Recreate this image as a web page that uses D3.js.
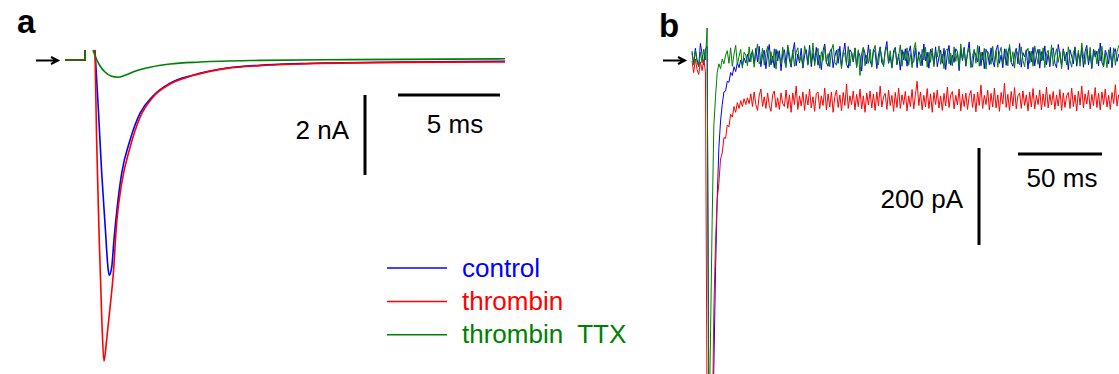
<!DOCTYPE html>
<html>
<head>
<meta charset="utf-8">
<script src="https://cdn.jsdelivr.net/npm/d3@7"></script>
<style>
  body { margin: 0; background: #fff; }
  svg { display: block; font-family: "Liberation Sans", Arial, sans-serif; }
</style>
</head>
<body>
<svg id="fig" width="1119" height="374"></svg>
<script>

    // ---- panel a: evoked current, time in ms, current in nA ----
    const baselineA = [[0, 0], [0.98, 0], [0.98, 0.25]];

    const controlA = [
        [1.47, 0.25], [1.63, -1.18], [1.80, -2.83], [1.96, -4.08], [2.12, -5.25], [2.17, -5.38],
        [2.29, -5.18], [2.40, -4.5], [2.56, -3.68], [2.78, -2.83], [3.19, -2.0], [3.68, -1.33],
        [4.31, -0.9], [5.15, -0.58], [6.27, -0.38], [7.94, -0.2], [9.56, -0.13], [11.52, -0.09],
        [16.42, -0.05], [21.57, -0.03]
    ];

    const thrombinA = [
        [1.47, 0.25], [1.55, -2.0], [1.68, -4.5], [1.81, -6.58], [1.91, -7.53], [2.04, -7.0],
        [2.21, -6.18], [2.37, -5.33], [2.53, -4.08], [2.78, -3.08], [3.19, -2.18], [3.68, -1.43],
        [4.31, -0.93], [5.15, -0.6], [6.27, -0.39], [7.94, -0.21], [9.56, -0.14], [11.52, -0.1],
        [16.42, -0.06], [21.57, -0.05]
    ];

    const ttxA = [
        [1.37, 0.25], [1.52, 0.05], [1.72, -0.15], [1.96, -0.3], [2.25, -0.4], [2.6, -0.43],
        [2.94, -0.38], [3.43, -0.28], [4.17, -0.18], [5.15, -0.1], [6.62, -0.05], [9.56, -0.01],
        [13.97, 0.01], [21.57, 0.03]
    ];

    // ---- panel b: one sample per ms, current in pA ----
    const sampleMsB = 1;

    const controlB = [
        14, -12, 20, -4, -16, 30, 8, -14, 18,
        24, -700, -760, -760, -640, -440, -290, -185, -130, -96,
        -70, -68, -48, -50, -30, -36, -18, -28, -10, -20, -4, -16, 0, -10, 8, -8, 6,
        14, -12, 20, -8, 24, -18, 6, 16, -22, 10, 28, -14, 4, -20, 18, -6, 15, -26, 9, 17,
        -13, 22, -4, -19, 12, 32, -16, 8, -10, 20, -21, 5, 17, -12, 26, -18, 10, -7, 22, -15,
        6, -24, 15, 29, -9, -17, 12, 19, -20, 3, 16, -11, 24, -16, 8, 31, -13, -21, 17, 11,
        -8, 20, -18, 13, 4, -27, 21, 9, -12, 27, -6, -16, 18, 12, -22, 6, 23, -10, -15, 16,
        34, -11, 3, -19, 15, 22, -14, 8, -25, 17, -4, 19, -17, 11, 25, -12, -7, 21, -20, 13,
        5, -16, 29, -6, 12, -21, 18, 9, -13, 23, -18, 2, 16, -11, 20, -24, 8, 26, -15, 6,
        -9, 19, 13, -26, 17, -4, 22, -17, 11, 33, -12, -19, 15, 5, -8, 24, -16, 12, -22, 18,
        9, -14, 21, -6, -18, 16, 27, -11, 6, -20, 19, -15, 12, 23, -9, -17, 8, 20, -12, 30,
        -19, 11, 2, 17, -23, 14, -8, 22, -16, 6, 18, -21, 13, -5, 25, -14, 9, -18, 16, 21,
        -11, -20, 28, 7, -15, 19, -6, 12, -24, 17, 4, -12, 23, -17, 10, -8, 20, -19, 14, 26,
        -14, 9, -22, 18, 2, 14, -16, 31, -9, -18, 16, 6, -12, 22, -20, 12, 19, -7, 8
    ];

    const thrombinB = [
        -6, -30, -2, -24, -34, -8, -26, -4, -28,
        -740, -800, -800, -800, -520, -380,
        -292, -258, -208, -196, -164, -166, -138, -142, -116, -122, -100, -112, -92, -104, -88, -100, -84, -96, -82, -94,
        -74, -100, -70, -96, -108, -78, -64, -100, -80, -104, -72, -98, -110, -76, -68, -102, -82, -106, -72, -94,
        -100, -66, -104, -76, -112, -72, -96, -58, -106, -78, -99, -70, -108, -75, -97, -64, -103, -80, -110, -73,
        -70, -105, -78, -98, -62, -107, -74, -101, -70, -112, -80, -66, -102, -76, -109, -71, -98, -54, -104, -78,
        -96, -68, -107, -75, -100, -64, -105, -78, -112, -72, -97, -68, -103, -74, -108, -70, -99, -58, -101, -80,
        -73, -106, -66, -98, -77, -110, -71, -102, -62, -104, -76, -96, -69, -109, -78, -100, -65, -105, -75, -48,
        -98, -70, -107, -77, -101, -63, -104, -74, -112, -71, -96, -66, -103, -78, -108, -73, -99, -60, -102, -76,
        -69, -105, -77, -97, -64, -109, -75, -100, -72, -106, -78, -67, -102, -74, -111, -70, -98, -56, -104, -77,
        -96, -66, -107, -73, -101, -62, -103, -76, -110, -71, -95, -52, -102, -75, -108, -69, -99, -61, -105, -78,
        -72, -104, -68, -98, -76, -109, -70, -101, -63, -105, -77, -96, -66, -107, -74, -100, -60, -103, -75, -97,
        -69, -106, -76, -99, -65, -108, -72, -102, -78, -71, -104, -62, -100, -76, -109, -68, -97, -58, -103, -74,
        -95, -67, -105, -75, -98, -61, -102, -73, -107, -70, -96, -64, -101, -77, -106, -71, -94, -55, -99, -76
    ];

    const ttxB = [
        10, -14, 16, -8, -18, 12, -10, 18, -4,
        62, -800, -580, -335, -140, -80, -30, -12, -22, -2, -12, 6,
        15, -11, 21, -17, 8, 26, -14, 3, 18, -21, 12, 6, -16, 23, -8, 17, -19, 10, 29, -12,
        -5, 20, -15, 9, 24, -18, 13, -9, 19, -23, 15, 4, -12, 22, -6, -20, 27, 8, -14, 17,
        -17, 12, 21, -8, 3, -19, 25, 10, -15, 18, -10, 31, -16, 6, 20, -21, 13, -5, 23, -12,
        9, -18, 16, 28, -9, -15, 19, 4, -22, 14, 7, -13, 24, -17, 12, -6, 21, -20, 17, -36,
        10, 22, -16, 6, -11, 18, -19, 14, 26, -8, -14, 20, 2, -18, 12, 23, -9, 15, -21, 8,
        19, -12, 4, 27, -17, 13, -6, 21, -15, 9, -20, 17, 32, -10, 6, -16, 18, -4, 22, -19,
        12, -9, 20, -18, 14, 2, 25, -13, 8, -22, 15, 19, -12, 10, -16, 23, -7, 13, -19, 29,
        -6, 17, -14, 9, 21, -20, 5, 18, -11, 26, -17, 12, -4, 20, -23, 14, 6, -13, 24, -9,
        15, -19, 10, 22, -12, 3, 19, -16, 28, -8, 13, -21, 17, 7, -14, 23, -5, -18, 12, 20,
        -11, 14, -17, 25, 6, -13, 18, -6, 21, -20, 9, 16, -12, 27, -16, 4, 19, -9, 13, -22,
        17, 7, -14, 23, -5, -19, 12, 20, -11, 16, -17, 31, 3, -13, 18, -8, 22, -18, 10, 15,
        -12, 19, -6, 24, -16, 9, -20, 17, 4, -11, 21, -15, 12, 26
    ];

    const seriesNames = ["control", "thrombin", "thrombin  TTX"];
    const seriesColors = ["#0000ff", "#ff0000", "#008000"];

    // scale bars
    const barA = { ms: 5, nA: 2 };
    const barB = { ms: 50, pA: 200 };

    const svg = d3.select("#fig");
    svg.append("rect").attr("width", 1119).attr("height", 374).attr("fill", "#fff");

    const xA = d3.scaleLinear().domain([0, 5]).range([65, 167]);
    const yA = d3.scaleLinear().domain([0, -2]).range([60, 140]);
    const xB = d3.scaleLinear().domain([0, 50]).range([692, 776]);
    const yB = d3.scaleLinear().domain([0, -200]).range([58, 155]);

    // panel labels
    svg.append("text").attr("x", 17).attr("y", 33).text("a")
        .attr("font-size", 33).attr("font-weight", "bold");
    svg.append("text").attr("x", 659).attr("y", 37).text("b")
        .attr("font-size", 33).attr("font-weight", "bold");

    // baseline arrows
    function arrow(x0, x1, y) {
        svg.append("path")
            .attr("d", "M" + x0 + "," + y + "H" + x1 + "M" + (x1 - 7) + "," + (y - 3.5) + "L" + x1 + "," + y + "L" + (x1 - 7) + "," + (y + 3.5))
            .attr("fill", "none").attr("stroke", "#000").attr("stroke-width", 2);
    }
    arrow(36, 58, 60.5);
    arrow(663, 685, 60.5);

    // panel a traces
    const lineA = d3.line().x(d => xA(d[0])).y(d => yA(d[1])).curve(d3.curveMonotoneX);
    const gA = svg.append("g");
    [controlA, thrombinA, ttxA].forEach((trace, i) => {
        gA.append("path").attr("d", d3.line().x(d => xA(d[0])).y(d => yA(d[1]))(baselineA))
            .attr("fill", "none").attr("stroke", seriesColors[i]).attr("stroke-width", 1.6);
        gA.append("path").attr("d", lineA(trace))
            .attr("fill", "none").attr("stroke", seriesColors[i]).attr("stroke-width", 1.6);
    });

    // panel b traces
    const lineB = d3.line().x((d, i) => xB(i * sampleMsB)).y(d => yB(d));
    const gB = svg.append("g");
    [controlB, thrombinB, ttxB].forEach((trace, i) => {
        gB.append("path").attr("d", lineB(trace))
            .attr("fill", "none").attr("stroke", seriesColors[i]).attr("stroke-width", 1);
    });

    // scale bars, panel a
    const vxA = 365, vyA = 95;
    svg.append("line").attr("x1", vxA).attr("x2", vxA)
        .attr("y1", vyA).attr("y2", vyA + yA(-barA.nA) - yA(0))
        .attr("stroke", "#000").attr("stroke-width", 3);
    const hxA = 398, hyA = 95;
    svg.append("line").attr("x1", hxA).attr("x2", hxA + xA(barA.ms) - xA(0))
        .attr("y1", hyA).attr("y2", hyA)
        .attr("stroke", "#000").attr("stroke-width", 3);
    svg.append("text").attr("x", 349).attr("y", 139).attr("text-anchor", "end")
        .attr("font-size", 26).text(barA.nA + " nA");
    svg.append("text").attr("x", 455).attr("y", 133).attr("text-anchor", "middle")
        .attr("font-size", 26).text(barA.ms + " ms");

    // scale bars, panel b
    const vxB = 979, vyB = 148;
    svg.append("line").attr("x1", vxB).attr("x2", vxB)
        .attr("y1", vyB).attr("y2", vyB + yB(-barB.pA) - yB(0))
        .attr("stroke", "#000").attr("stroke-width", 3);
    const hxB = 1018, hyB = 154;
    svg.append("line").attr("x1", hxB).attr("x2", hxB + xB(barB.ms) - xB(0))
        .attr("y1", hyB).attr("y2", hyB)
        .attr("stroke", "#000").attr("stroke-width", 3);
    svg.append("text").attr("x", 963).attr("y", 208).attr("text-anchor", "end")
        .attr("font-size", 26).text(barB.pA + " pA");
    svg.append("text").attr("x", 1062).attr("y", 187).attr("text-anchor", "middle")
        .attr("font-size", 26).text(barB.ms + " ms");

    // legend
    const legend = svg.append("g").attr("transform", "translate(387,268)");
    seriesNames.forEach((name, i) => {
        const row = legend.append("g").attr("transform", "translate(0," + (i * 33.4) + ")");
        row.append("line").attr("x1", 0).attr("x2", 60).attr("y1", 0).attr("y2", 0)
            .attr("stroke", seriesColors[i]).attr("stroke-width", 1.5);
        row.append("text").attr("x", 75).attr("y", 8.5).attr("font-size", 26)
            .attr("fill", seriesColors[i]).style("white-space", "pre").text(name);
    });

</script>
</body>
</html>
